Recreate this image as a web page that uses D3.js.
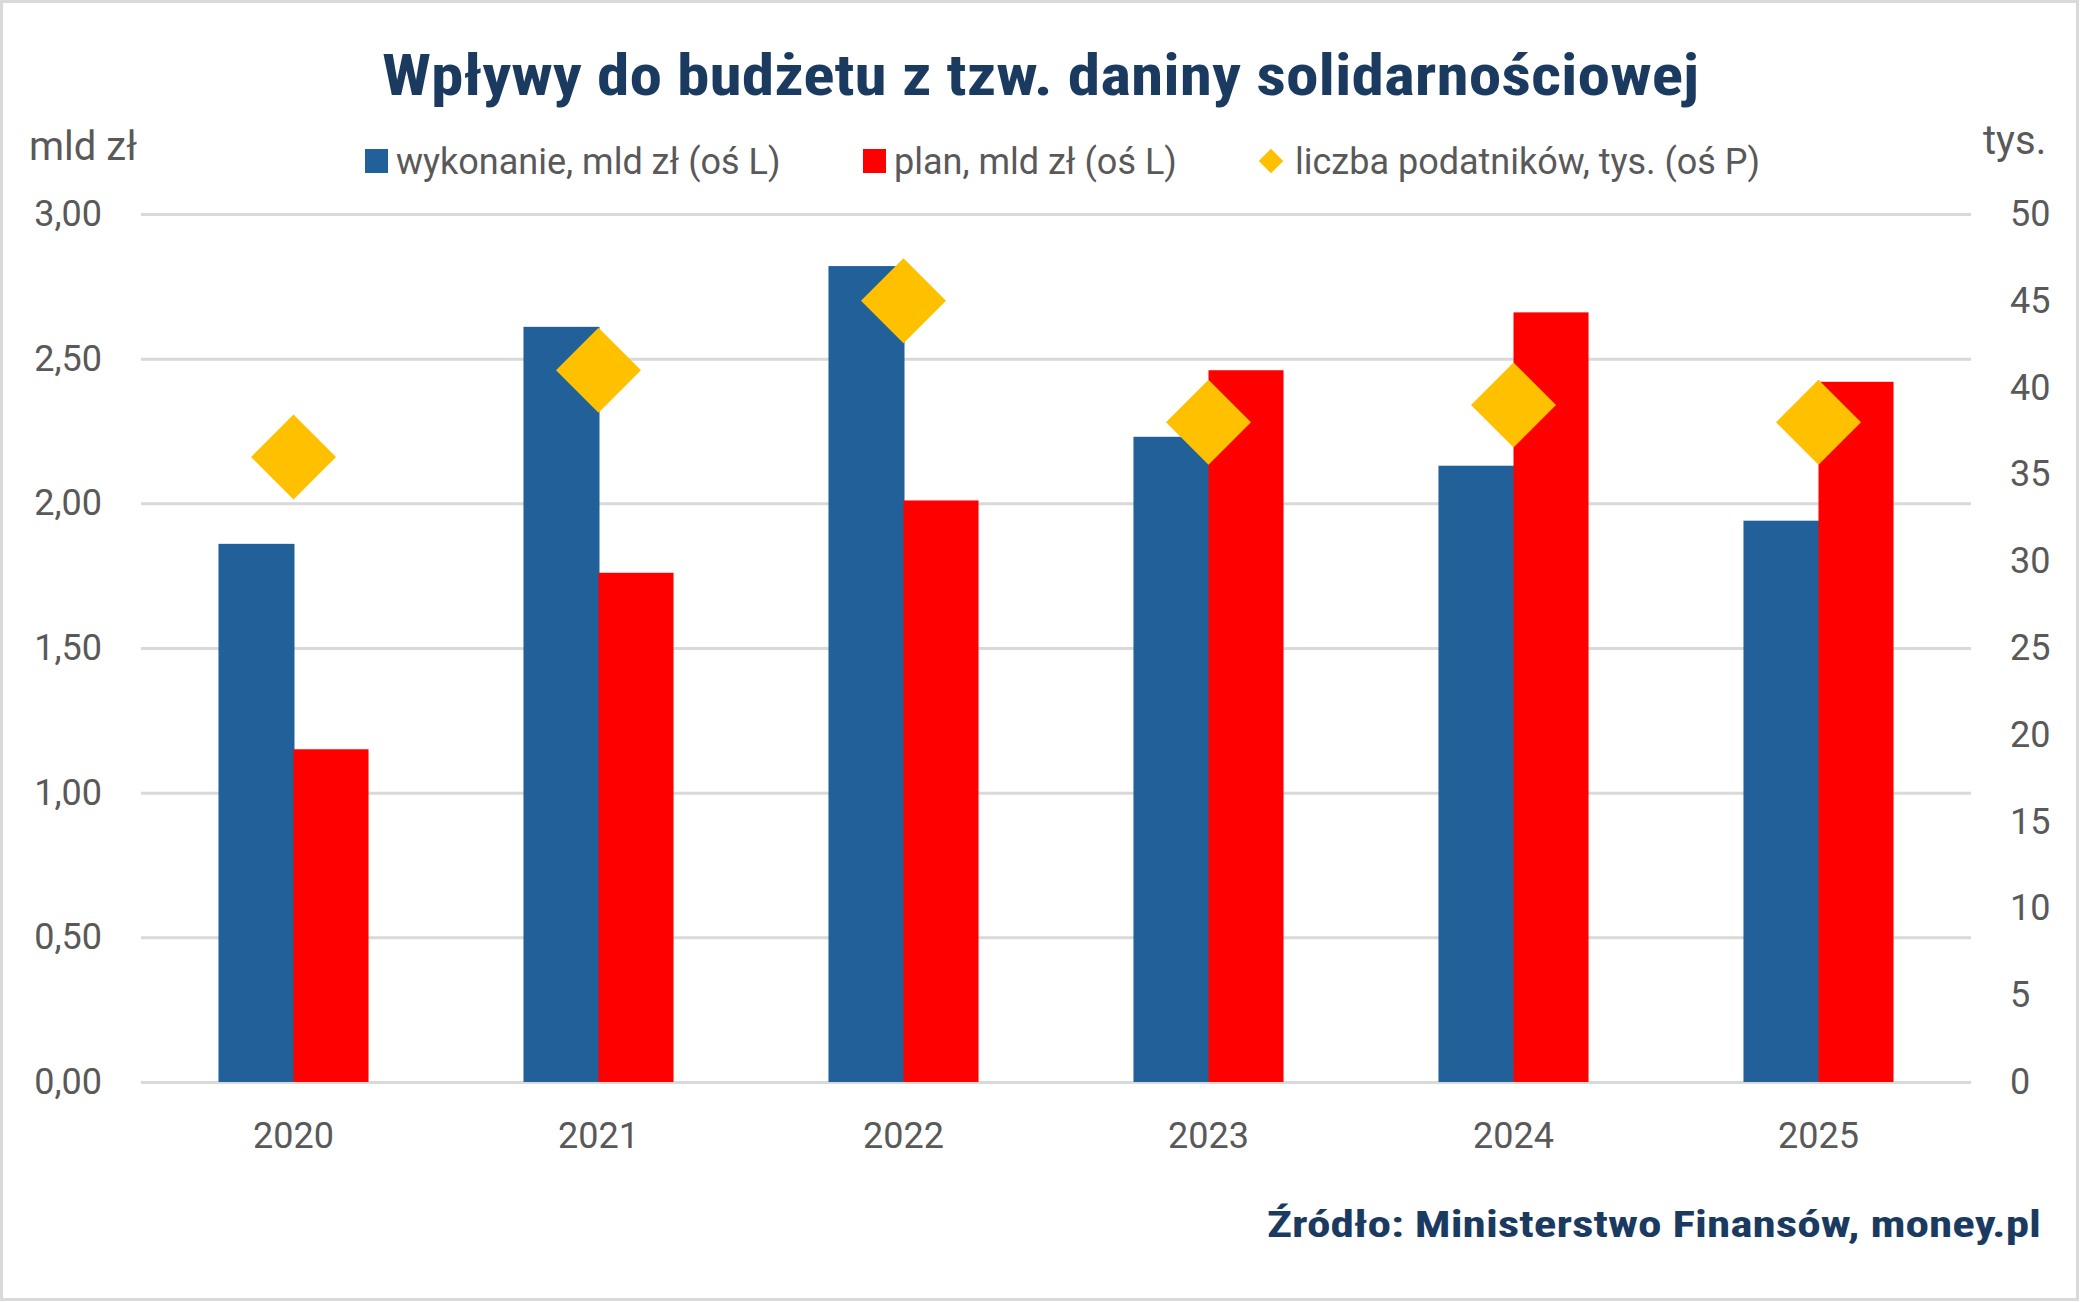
<!DOCTYPE html>
<html>
<head>
<meta charset="utf-8">
<script src="https://cdn.jsdelivr.net/npm/d3@7"></script>
<style>
	html, body { margin: 0; padding: 0; background: #fff; }
	svg text { font-family: Roboto, "Open Sans", sans-serif; fill: #595959; }
	.title, .source { font-family: "Liberation Sans Narrow", "Roboto Condensed", Roboto, sans-serif; font-weight: 700; fill: #1B3A5F; }
	.axis .domain { display: none; }
</style>
</head>
<body>
<div id="chart"></div>
<script>
// data
var years = ['2020', '2021', '2022', '2023', '2024', '2025']
var wykonanie = [1.86, 2.61, 2.82, 2.23, 2.13, 1.94]   // mld zl, left axis
var plan = [1.15, 1.76, 2.01, 2.46, 2.66, 2.42]        // mld zl, left axis
var podatnicy = [36, 41, 45, 38, 39, 38]                // tys., right axis
var leftTicks = [0, 0.5, 1, 1.5, 2, 2.5, 3]
var rightTicks = [0, 5, 10, 15, 20, 25, 30, 35, 40, 45, 50]
var seriesNames = ['wykonanie, mld zł (oś L)', 'plan, mld zł (oś L)', 'liczba podatników, tys. (oś P)']

var W = 2081, H = 1302
var margin = { top: 214, right: 2081 - 1971, bottom: 1302 - 1082, left: 141 }
var width = W - margin.left - margin.right
var height = H - margin.top - margin.bottom

var colors = { wyk: '#22609A', plan: '#FF0000', pod: '#FFC000' }

var pl = d3.formatLocale({ decimal: ',', thousands: ' ', grouping: [3], currency: ['', ' zł'] })
var fmt2 = pl.format('.2f')

var svg = d3.select('#chart').append('svg')
	.attr('width', W)
	.attr('height', H)

// outer frame
svg.append('rect')
	.attr('x', 1.5).attr('y', 1.5)
	.attr('width', W - 5).attr('height', H - 4)
	.attr('fill', '#fff')
	.attr('stroke', '#D9D9D9')
	.attr('stroke-width', 3)

var g = svg.append('g')
	.attr('transform', 'translate(' + margin.left + ',' + margin.top + ')')

var x0 = d3.scaleBand()
	.domain(years)
	.range([0, width])
	.paddingInner(0.508)
	.paddingOuter(0.254)

var x1 = d3.scaleBand()
	.domain(['wyk', 'plan'])
	.range([0, x0.bandwidth()])

var yL = d3.scaleLinear().domain([0, 3]).range([height, 0])
var yR = d3.scaleLinear().domain([0, 50]).range([height, 0])

// gridlines
g.append('g')
	.attr('class', 'axis grid')
	.call(d3.axisLeft(yL).tickValues(leftTicks).tickSize(-width).tickFormat(''))
	.selectAll('line')
	.attr('stroke', '#D9D9D9')
	.attr('stroke-width', 3)

// left axis
g.append('g')
	.attr('class', 'axis axis--yl')
	.call(d3.axisLeft(yL).tickValues(leftTicks).tickSize(0).tickPadding(39).tickFormat(fmt2))
	.selectAll('text')
	.style('font-size', '36px')

// right axis
g.append('g')
	.attr('class', 'axis axis--yr')
	.attr('transform', 'translate(' + width + ',0)')
	.call(d3.axisRight(yR).tickValues(rightTicks).tickSize(0).tickPadding(39))
	.selectAll('text')
	.style('font-size', '36px')

// x axis
g.append('g')
	.attr('class', 'axis axis--x')
	.attr('transform', 'translate(0,' + height + ')')
	.call(d3.axisBottom(x0).tickSize(0).tickPadding(40))
	.selectAll('text')
	.style('font-size', '36px')

g.selectAll('.axis text').attr('fill', '#595959')

// bars
var groups = g.selectAll('.grp')
	.data(years)
	.enter().append('g')
	.attr('class', 'grp')
	.attr('transform', function (d) { return 'translate(' + x0(d) + ',0)' })

groups.append('rect')
	.attr('x', x1('wyk'))
	.attr('y', function (d, i) { return yL(wykonanie[i]) })
	.attr('width', x1.bandwidth() + 1)
	.attr('height', function (d, i) { return height - yL(wykonanie[i]) })
	.attr('fill', colors.wyk)

groups.append('rect')
	.attr('x', x1('plan'))
	.attr('y', function (d, i) { return yL(plan[i]) })
	.attr('width', x1.bandwidth())
	.attr('height', function (d, i) { return height - yL(plan[i]) })
	.attr('fill', colors.plan)

// diamonds
var diamond = d3.symbol().type(d3.symbolSquare).size(3612)
g.selectAll('.pt')
	.data(podatnicy)
	.enter().append('path')
	.attr('class', 'pt')
	.attr('d', diamond)
	.attr('fill', colors.pod)
	.attr('transform', function (d, i) {
		return 'translate(' + (x0(years[i]) + x0.bandwidth() / 2) + ',' + yR(d) + ') rotate(45)'
	})

// title
svg.append('text')
	.attr('class', 'title')
	.attr('x', 382).attr('y', 95)
	.attr('textLength', 1317)
	.attr('lengthAdjust', 'spacingAndGlyphs')
	.style('font-size', '58px')
	.text('Wpływy do budżetu z tzw. daniny solidarnościowej')

// axis units
svg.append('text')
	.attr('x', 29).attr('y', 160)
	.style('font-size', '40px')
	.text('mld zł')

svg.append('text')
	.attr('x', 1983).attr('y', 154)
	.style('font-size', '40px')
	.text('tys.')

// legend
var legendX = [365, 863, 1259]
var leg = svg.append('g').attr('class', 'legend')
leg.append('rect').attr('x', legendX[0]).attr('y', 149).attr('width', 23).attr('height', 24).attr('fill', colors.wyk)
leg.append('rect').attr('x', legendX[1]).attr('y', 149).attr('width', 23).attr('height', 24).attr('fill', colors.plan)
leg.append('path')
	.attr('d', d3.symbol().type(d3.symbolSquare).size(300))
	.attr('transform', 'translate(' + (legendX[2] + 12) + ',161) rotate(45)')
	.attr('fill', colors.pod)
leg.selectAll('text')
	.data(seriesNames)
	.enter().append('text')
	.attr('x', function (d, i) { return legendX[i] + (i == 2 ? 36 : 31) })
	.attr('y', 174)
	.style('font-size', '36px')
	.text(function (d) { return d })

// source
svg.append('text')
	.attr('class', 'source')
	.attr('x', 1267).attr('y', 1237)
	.attr('textLength', 774)
	.attr('lengthAdjust', 'spacingAndGlyphs')
	.style('font-size', '37px')
	.text('Źródło: Ministerstwo Finansów, money.pl')
</script>
</body>
</html>
